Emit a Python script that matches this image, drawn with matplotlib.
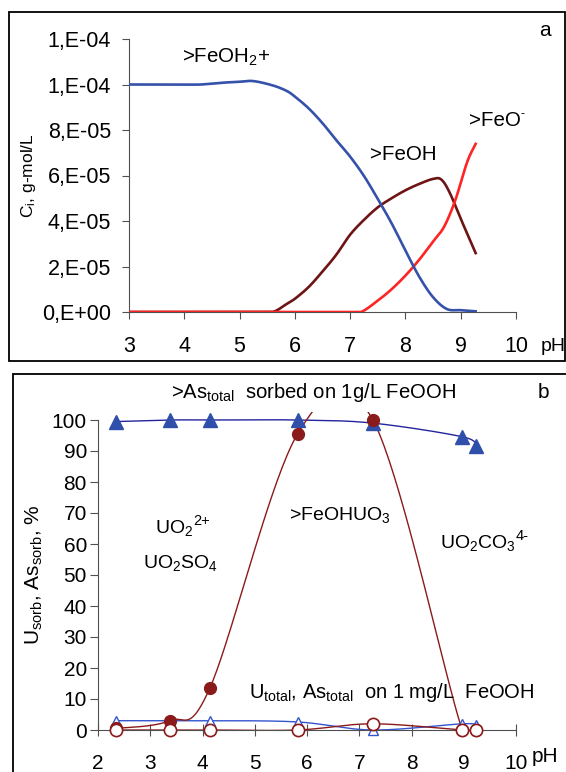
import numpy as np
import matplotlib
matplotlib.use("Agg")
import matplotlib.pyplot as plt
from matplotlib.patches import Rectangle

plt.rcParams['font.family'] = ['Liberation Sans', 'DejaVu Sans']
plt.rcParams['mathtext.fontset'] = 'custom'
plt.rcParams['mathtext.rm'] = 'Liberation Sans'
plt.rcParams['mathtext.it'] = 'Liberation Sans'

# ---------------- Panel a data ----------------
ph_feoh2 = [3.0, 3.5, 4.0, 4.3, 4.7, 5.0, 5.25, 5.6, 5.85, 6.0, 6.25, 6.5, 6.75, 7.0, 7.25, 7.5, 7.75,
            8.0, 8.25, 8.5, 8.75, 9.0, 9.27]
feoh2 = [1.0e-4, 1.0e-4, 1.0e-4, 1.0e-4, 1.008e-4, 1.012e-4, 1.015e-4, 0.996e-4, 0.972e-4, 0.947e-4, 0.895e-4,
         0.83e-4, 0.755e-4, 0.683e-4, 0.598e-4, 0.497e-4, 0.39e-4, 0.27e-4, 0.155e-4, 0.065e-4, 0.013e-4,
         0.008e-4, 0.003e-4]
ph_feoh = [3.0, 5.3, 5.6, 5.85, 6.0, 6.25, 6.5, 6.75, 7.0, 7.25, 7.5, 7.75, 8.0, 8.25, 8.5, 8.65, 8.8, 9.0, 9.27]
feoh = [0.0, 0.0, 0.0, 0.035e-4, 0.058e-4, 0.11e-4, 0.178e-4, 0.252e-4, 0.34e-4, 0.405e-4, 0.46e-4, 0.5e-4,
        0.535e-4, 0.563e-4, 0.585e-4, 0.582e-4, 0.525e-4, 0.41e-4, 0.259e-4]
ph_feo = [3.0, 6.5, 7.0, 7.2, 7.5, 7.75, 8.0, 8.25, 8.5, 8.7, 8.9, 9.05, 9.15, 9.27]
feo = [0.0, 0.0, 0.0, 0.0, 0.05e-4, 0.1e-4, 0.16e-4, 0.23e-4, 0.31e-4, 0.375e-4, 0.49e-4, 0.61e-4, 0.68e-4,
       0.739e-4]
ytick_a = [0, 2e-5, 4e-5, 6e-5, 8e-5, 1e-4, 1.2e-4]
ytick_a_labels = ["0,E+00", "2,E-05", "4,E-05", "6,E-05", "8,E-05", "1,E-04", "1,E-04"]

# ---------------- Panel b data ----------------
ph_pts = [2.345, 3.37, 4.14, 5.82, 7.26, 8.97, 9.24]
as_sorb_1g = [99.5, 100, 100, 100, 99, 94.6, 91.6]
u_sorb_1g = [0.5, 3, 13.5, 95.5, 100, 0, 0]
as_1mg = [3, 3, 3, 2.6, 0, 2, 1.5]
u_1mg = [0, 0, 0, 0, 2, 0, 0]


def smooth(xs, ys, n=40):
    """Excel-like smoothed line (Catmull-Rom Bezier)."""
    P = np.column_stack([xs, ys]).astype(float)
    out = []
    for i in range(len(P) - 1):
        p0 = P[i - 1] if i > 0 else P[i]
        p1 = P[i]
        p2 = P[i + 1]
        p3 = P[i + 2] if i + 2 < len(P) else P[i + 1]
        c1 = p1 + (p2 - p0) / 6.0
        c2 = p2 - (p3 - p1) / 6.0
        t = np.linspace(0, 1, n)[:, None]
        seg = ((1 - t) ** 3) * p1 + 3 * ((1 - t) ** 2) * t * c1 + 3 * (1 - t) * t ** 2 * c2 + t ** 3 * p2
        out.append(seg if i == 0 else seg[1:])
    arr = np.vstack(out)
    return arr[:, 0], arr[:, 1]


W, H = 566, 772
fig = plt.figure(figsize=(W / 100, H / 100), dpi=100)


def fx(px):
    return px / W


def fy(py):
    return 1 - py / H


renderer = fig.canvas.get_renderer()


def text_with_sup(x, y, main, sup, size, supsize, dy, dx=1):
    t = fig.text(fx(x), fy(y), main, fontsize=size, va='center', ha='left')
    bb = t.get_window_extent(renderer=renderer)
    fig.text(fx(bb.x1 + dx), fy(y - dy), sup, fontsize=supsize, va='center', ha='left')


# frames
fig.patches.append(Rectangle((fx(9), fy(361)), fx(565 - 9), (361 - 12) / H,
                             transform=fig.transFigure, fill=False, lw=1.3, ec='black'))
fig.patches.append(Rectangle((fx(13), -0.01), 0.99, 1 - 374 / H + 0.01,
                             transform=fig.transFigure, fill=False, lw=1.3, ec='black'))

# ---------------- Panel a ----------------
ax = fig.add_axes([fx(129), fy(312), fx(516 - 129), (312 - 39) / H])
blue_a = '#3552AA'
dred_a = '#6E1414'
red_a = '#FF2424'
xa, ya = smooth(ph_feoh, feoh)
ax.plot(xa, np.clip(ya, 0, None), color=dred_a, lw=1.9, zorder=2)
xa, ya = smooth(ph_feo, feo)
ax.plot(xa, np.clip(ya, 0, None), color=red_a, lw=1.9, zorder=3)
xa, ya = smooth(ph_feoh2, feoh2)
ax.plot(xa, np.clip(ya, 0, None), color=blue_a, lw=1.9, zorder=4)
ax.set_xlim(3, 10)
ax.set_ylim(0, 1.2e-4)
ax.set_xticks(range(3, 11))
ax.set_yticks(ytick_a)
ax.set_yticklabels(ytick_a_labels)
for s in ['top', 'right']:
    ax.spines[s].set_visible(False)
for s in ['left', 'bottom']:
    ax.spines[s].set_color('#505050')
ax.tick_params(axis='both', direction='out', length=5, color='#505050', labelsize=15.5)
ax.tick_params(axis='x', pad=12)
ax.tick_params(axis='y', pad=8)
ax.set_ylabel('C$_{\\mathrm{i}}$, g-mol/L', fontsize=12.5)
ax.yaxis.set_label_coords(-0.235, 0.5)
fig.text(fx(182), fy(57), '>FeOH$_{2}$+', fontsize=14.8, va='center', ha='left')
fig.text(fx(370), fy(154), '>FeOH', fontsize=14.8, va='center', ha='left')
text_with_sup(469, 121, '>FeO', '-', 14.8, 9, 7, dx=0)
fig.text(fx(545), fy(31), 'a', fontsize=15, va='center', ha='center')
fig.text(fx(541), fy(346), 'pH', fontsize=14, va='center', ha='left')

# ---------------- Panel b ----------------
bx = fig.add_axes([fx(98), fy(730), fx(516 - 98), (730 - 412.25) / H])
navy = '#24249C'
tri_blue = '#2F4FAA'
light_blue = '#3355CC'
dred = '#8B1A1A'
bx.set_xlim(2, 10)
bx.set_ylim(0, 102.5)

xs, ys = smooth(ph_pts, as_sorb_1g)
bx.plot(xs, ys, color=navy, lw=1.0, zorder=2)
xs, ys = smooth(ph_pts, u_sorb_1g)
bx.plot(xs, ys, color=dred, lw=1.0, zorder=3)
xs, ys = smooth(ph_pts, as_1mg)
bx.plot(xs, ys, color=light_blue, lw=1.0, zorder=2)
xs, ys = smooth(ph_pts, u_1mg)
bx.plot(xs, ys, color=dred, lw=1.0, zorder=3)

bx.plot(ph_pts, as_sorb_1g, ls='none', marker='^', ms=10, color=tri_blue, mec=tri_blue, clip_on=False, zorder=5)
bx.plot(ph_pts, u_sorb_1g, ls='none', marker='o', ms=8.5, color=dred, mec=dred, clip_on=False, zorder=6)
bx.plot(ph_pts, as_1mg, ls='none', marker='^', ms=7, mfc='white', mec=light_blue, mew=1.0, clip_on=False,
        zorder=5)
bx.plot(ph_pts, u_1mg, ls='none', marker='o', ms=8.8, mfc='white', mec=dred, mew=1.2, clip_on=False, zorder=7)

bx.set_xticks(range(2, 11))
bx.set_yticks(range(0, 101, 10))
for s in ['top', 'right']:
    bx.spines[s].set_visible(False)
for s in ['left', 'bottom']:
    bx.spines[s].set_color('#505050')
bx.spines['left'].set_bounds(0, 100)
bx.tick_params(axis='both', length=6, color='#505050', labelsize=15)
bx.tick_params(axis='x', direction='inout', length=8, pad=13)
bx.tick_params(axis='y', direction='out', pad=2)
bx.set_ylabel('U$_{\\mathrm{sorb}}$, As$_{\\mathrm{sorb}}$, %', fontsize=15)
bx.yaxis.set_label_coords(-0.127, 0.488)

fig.text(fx(171), fy(393), '>As$_{\\mathrm{total}}$  sorbed on 1g/L FeOOH', fontsize=14.6, va='center', ha='left')
fig.text(fx(543), fy(392), 'b', fontsize=15, va='center', ha='center')
text_with_sup(155, 528, 'UO$_{2}$', '2+', 14, 10.5, 7, dx=0)
fig.text(fx(143), fy(563), 'UO$_{2}$SO$_{4}$', fontsize=14, va='center', ha='left')
fig.text(fx(289), fy(515), '>FeOHUO$_{3}$', fontsize=14, va='center', ha='left')
text_with_sup(440, 543, 'UO$_{2}$CO$_{3}$', '4-', 14, 10.5, 7, dx=0)
fig.text(fx(249), fy(693), 'U$_{\\mathrm{total}}$, As$_{\\mathrm{total}}$  on 1 mg/L  FeOOH', fontsize=14.5,
         va='center', ha='left')
fig.text(fx(545), fy(757), 'pH', fontsize=15, va='center', ha='center')

fig.savefig('out.png', dpi=100)
